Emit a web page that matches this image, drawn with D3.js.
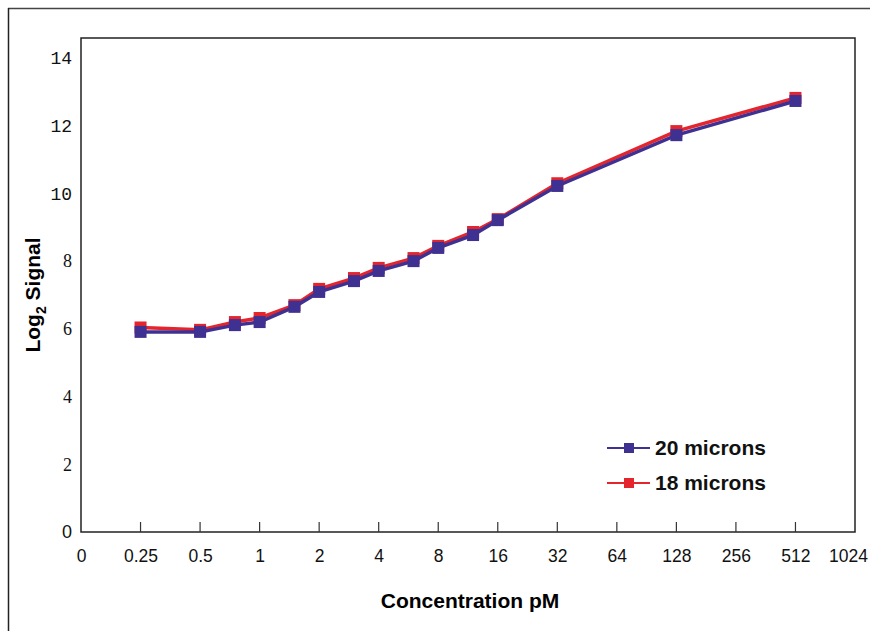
<!DOCTYPE html>
<html><head><meta charset="utf-8">
<script src="https://cdn.jsdelivr.net/npm/d3@7"></script>
<style>body{margin:0;background:#fff}svg{display:block}</style>
</head><body>
<script>
const concentrations = [0.25, 0.5, 0.75, 1, 1.5, 2, 3, 4, 6, 8, 12, 16, 32, 128, 512];
const micron20 = [5.91, 5.91, 6.11, 6.20, 6.65, 7.09, 7.41, 7.71, 8.00, 8.39, 8.77, 9.21, 10.22, 11.72, 12.73];
const micron18 = [6.04, 5.97, 6.20, 6.32, 6.70, 7.18, 7.50, 7.80, 8.09, 8.45, 8.86, 9.24, 10.30, 11.84, 12.82];
const xTickValues = [0.125, 0.25, 0.5, 1, 2, 4, 8, 16, 32, 64, 128, 256, 512, 1024];
const xTickLabels = ["0", "0.25", "0.5", "1", "2", "4", "8", "16", "32", "64", "128", "256", "512", "1024"];
const yTickValues = [0, 2, 4, 6, 8, 10, 12, 14];
const seriesNames = ["20 microns", "18 microns"];

const W = 870, H = 631;
const svg = d3.select("body").append("svg").attr("width", W).attr("height", H);

// outer frame (top and left edges)
svg.append("line").attr("x1", 8).attr("x2", W).attr("y1", 8.5).attr("y2", 8.5).attr("stroke", "#444").attr("stroke-width", 1.5);
svg.append("line").attr("x1", 8.5).attr("x2", 8.5).attr("y1", 8).attr("y2", H).attr("stroke", "#222").attr("stroke-width", 1.5);

const L = 81, R = 855, T = 38, B = 532;
const x = d3.scaleLog().base(2).domain([0.125, 1024]).range([L, R]);
const y = d3.scaleLinear().domain([0, 14]).range([B, B - 14 * 33.86]);

// plot box
svg.append("rect").attr("x", L).attr("y", T).attr("width", R - L).attr("height", B - T)
  .attr("fill", "none").attr("stroke", "#222").attr("stroke-width", 1.5);

// x axis
const xAxis = d3.axisBottom(x).tickValues(xTickValues).tickSize(0).tickPadding(18)
  .tickFormat((d, i) => xTickLabels[i]);
const gx = svg.append("g").attr("transform", `translate(0,${B})`).call(xAxis);
gx.select(".domain").remove();
gx.attr("font-size", null).attr("font-family", null);
gx.selectAll("text").style("font-family", "Liberation Sans, Arial, sans-serif").style("font-size", "17.5px").attr("fill", "#111")
  .attr("dx", (d, i) => i === xTickLabels.length - 1 ? -7 : 0);
// inward tick marks
svg.append("g").selectAll("line").data(xTickValues.slice(1, -1)).join("line")
  .attr("x1", d => x(d)).attr("x2", d => x(d)).attr("y1", B).attr("y2", B - 10)
  .attr("stroke", "#333").attr("stroke-width", 1.2);

// y axis labels (mixed fonts as in reference)
const yAxis = d3.axisLeft(y).tickValues(yTickValues).tickSize(0).tickPadding(9);
const gy = svg.append("g").attr("transform", `translate(${L},0)`).call(yAxis);
gy.select(".domain").remove();
gy.attr("font-size", null).attr("font-family", null);
gy.selectAll("text").style("font-size", "18px").attr("fill", "#111")
  .style("font-family", d => d >= 10 ? "Liberation Mono, Courier New, monospace" : (d === 0 ? "Liberation Sans, Arial, sans-serif" : "Liberation Serif, Times New Roman, serif"));

// axis titles
svg.append("text").attr("x", 470).attr("y", 608).attr("text-anchor", "middle")
  .style("font-family", "Liberation Sans, Arial, sans-serif").attr("font-weight", "bold").style("font-size", "21px")
  .text("Concentration pM");
const yl = svg.append("text").attr("transform", "translate(40,295) rotate(-90)").attr("text-anchor", "middle")
  .style("font-family", "Liberation Sans, Arial, sans-serif").attr("font-weight", "bold").style("font-size", "21px");
yl.append("tspan").text("Log");
yl.append("tspan").style("font-size", "14px").attr("dy", 6).text("2");
yl.append("tspan").attr("dy", -6).text(" Signal");

const colors = ["#3f3192", "#e5252d"];
const series = [
  { name: seriesNames[1], vals: micron18, color: colors[1] },
  { name: seriesNames[0], vals: micron20, color: colors[0] }
];
const line = d3.line().x(d => x(d[0])).y(d => y(d[1]));
series.forEach(s => {
  const pts = concentrations.map((c, i) => [c, s.vals[i]]);
  svg.append("path").datum(pts).attr("d", line).attr("fill", "none")
    .attr("stroke", s.color).attr("stroke-width", 3.5);
  svg.append("g").selectAll("rect").data(pts).join("rect")
    .attr("x", d => x(d[0]) - 6).attr("y", d => y(d[1]) - 6)
    .attr("width", 12).attr("height", 12).attr("fill", s.color);
});

// legend
const leg = svg.append("g");
[[seriesNames[0], colors[0], 448], [seriesNames[1], colors[1], 483]].forEach(([n, c, ly]) => {
  leg.append("line").attr("x1", 607).attr("x2", 650).attr("y1", ly).attr("y2", ly).attr("stroke", c).attr("stroke-width", 2);
  leg.append("rect").attr("x", 624).attr("y", ly - 5).attr("width", 10).attr("height", 10).attr("fill", c);
  leg.append("text").attr("x", 655).attr("y", ly + 7).style("font-family", "Liberation Sans, Arial, sans-serif")
    .attr("font-weight", "bold").style("font-size", "21px").attr("fill", "#111").text(n);
});
</script>
</body></html>
